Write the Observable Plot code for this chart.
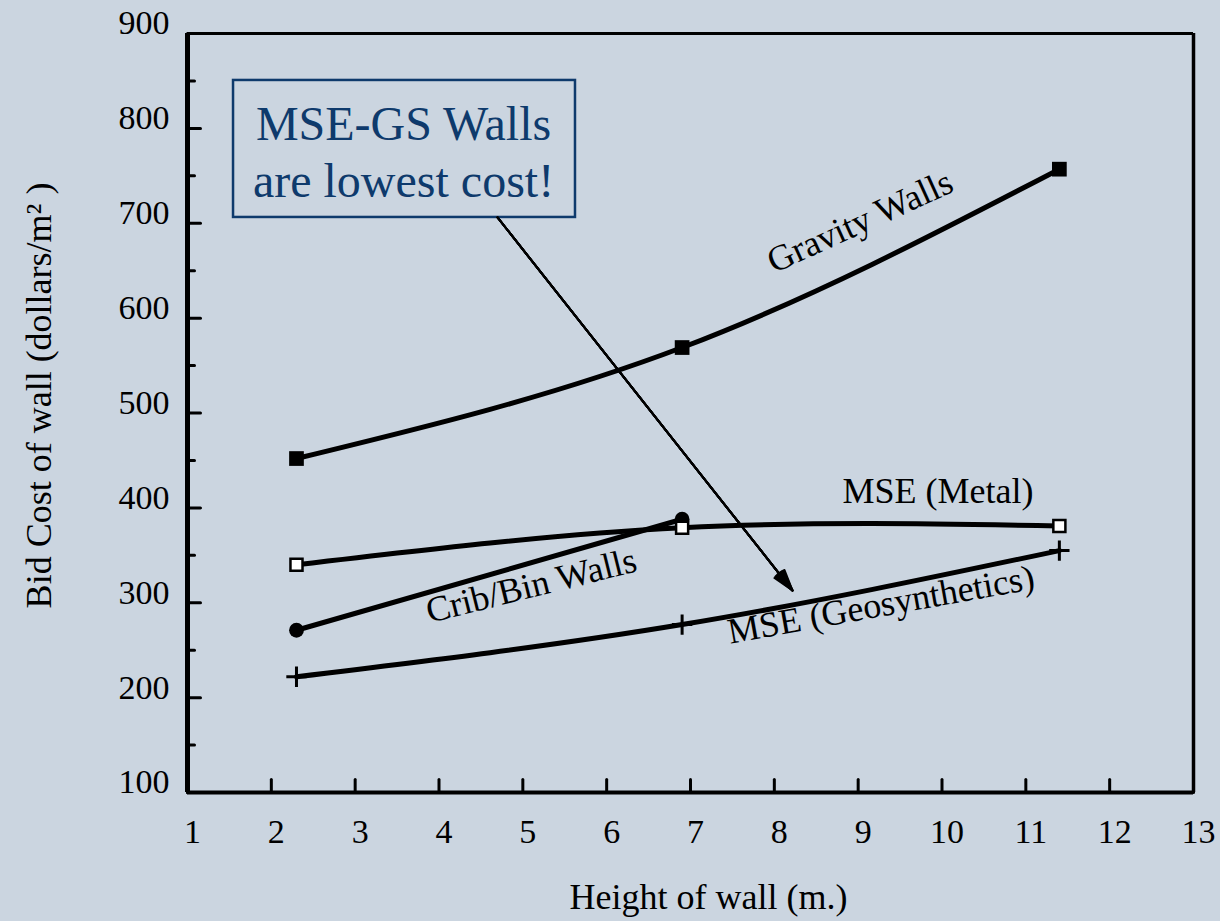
<!DOCTYPE html>
<html>
<head>
<meta charset="utf-8">
<script src="https://cdn.jsdelivr.net/npm/d3@7"></script>
<script src="https://cdn.jsdelivr.net/npm/@observablehq/plot@0.6"></script>
<style>
html, body { margin: 0; padding: 0; background: #cbd5e0; }
</style>
</head>
<body>
<div id="chart"></div>
<script>
// ---- data ----
const heights = [2.3, 6.9, 11.4];
const gravityWalls = [452, 569, 757];
const mseMetal = [340, 379, 381];
const mseGeosynthetics = [222, 277, 355];
const cribHeights = [2.3, 6.9];
const cribBinWalls = [271, 388];

const xTicks = [1, 2, 3, 4, 5, 6, 7, 8, 9, 10, 11, 12, 13];
const yTicks = [100, 200, 300, 400, 500, 600, 700, 800, 900];
const yMinorTicks = [150, 250, 350, 450, 550, 650, 750, 850];
const xDomain = [1, 13];
const yDomain = [100, 900];

const xLabel = "Height of wall (m.)";
const yLabel = "Bid Cost of wall (dollars/m\u00B2 )";
const calloutText = "MSE-GS Walls\nare lowest cost!";

const rows = (xs, ys) => xs.map((x, i) => ({x, y: ys[i]}));
const gravityRows = rows(heights, gravityWalls);
const metalRows = rows(heights, mseMetal);
const geoRows = rows(heights, mseGeosynthetics);
const cribRows = rows(cribHeights, cribBinWalls);

const tickShape = {draw(ctx, l) { ctx.moveTo(0, 0); ctx.lineTo(0, -l); }};
const serif = "'Liberation Serif', 'Times New Roman', serif";
const blue = "#0e3a6c";

const headMarks = [4, 10, 16, 22, 28, 34].map(a =>
  Plot.arrow([0], {x1: 4.698, y1: 706.1, x2: 8.217, y2: 312.9, stroke: "black",
    strokeWidth: 2, headAngle: a, headLength: 16.5})
);

const chart = Plot.plot({
  width: 1220,
  height: 921,
  marginLeft: 187,
  marginRight: 27,
  marginTop: 33,
  marginBottom: 129,
  x: {domain: xDomain},
  y: {domain: yDomain},
  style: {background: "#cbd5e0", fontFamily: serif, fontSize: "34px", color: "black", overflow: "visible"},
  marks: [
    Plot.axisX(xTicks, {tickSize: 0, tickPadding: 26, fontSize: 34, dx: 5, label: null}),
    Plot.axisY(yTicks, {tickSize: 0, tickPadding: 18, fontSize: 34, dy: -10, label: null}),
    // frame
    Plot.ruleY([yDomain[1]], {strokeWidth: 3}),
    Plot.ruleX([xDomain[1]], {strokeWidth: 3.5}),
    Plot.ruleX([xDomain[0]], {strokeWidth: 5}),
    Plot.ruleY([yDomain[0]], {strokeWidth: 4}),
    // inward ticks
    Plot.vectorX(xTicks, {x: d => d, frameAnchor: "bottom", length: 13, anchor: "start", shape: tickShape, strokeWidth: 3}),
    Plot.vectorY(yTicks, {y: d => d, frameAnchor: "left", rotate: 90, length: 13, anchor: "start", shape: tickShape, strokeWidth: 3}),
    Plot.vectorY(yMinorTicks, {y: d => d, frameAnchor: "left", rotate: 90, length: 7, anchor: "start", shape: tickShape, strokeWidth: 3}),
    // series lines
    Plot.line(gravityRows, {x: "x", y: "y", curve: "natural", strokeWidth: 5}),
    Plot.line(metalRows, {x: "x", y: "y", curve: "natural", strokeWidth: 5}),
    Plot.line(geoRows, {x: "x", y: "y", curve: "natural", strokeWidth: 5}),
    Plot.line(cribRows, {x: "x", y: "y", strokeWidth: 5}),
    // markers
    Plot.dot(cribRows, {x: "x", y: "y", symbol: "circle", r: 7.4, fill: "black"}),
    Plot.dot(gravityRows, {x: "x", y: "y", symbol: "square", r: 8.3, fill: "black"}),
    Plot.dot(metalRows, {x: "x", y: "y", symbol: "square", r: 6.8, fill: "white", stroke: "black", strokeWidth: 2.5}),
    Plot.dot(geoRows, {x: "x", y: "y", symbol: "plus", r: 6.6, stroke: "black", strokeWidth: 3}),
    // series labels
    Plot.text(["Gravity Walls"], {x: 9.022, y: 701.8, text: d => d, rotate: -24.5, fontSize: 36, fill: "black"}),
    Plot.text(["MSE (Metal)"], {x: 9.953, y: 417.8, text: d => d, fontSize: 36, fill: "black"}),
    Plot.text(["Crib/Bin Walls"], {x: 5.100, y: 317.9, text: d => d, rotate: -14, fontSize: 36, fill: "black"}),
    Plot.text(["MSE (Geosynthetics)"], {x: 9.273, y: 297.9, text: d => d, rotate: -10.2, fontSize: 36, fill: "black"}),
    // callout
    Plot.rect([0], {x1: 1.549, x2: 5.628, y1: 706.1, y2: 850.5, fill: "none", stroke: blue, strokeWidth: 2.5}),
    Plot.text([calloutText], {x: 3.577, y: 776.7, text: d => d, fontSize: 48, lineHeight: 1.1875, fill: blue}),
    ...headMarks,
    // axis titles
    Plot.text([xLabel], {frameAnchor: "bottom", text: d => d, textAnchor: "middle", lineAnchor: "middle", dx: 18, dy: 105, fontSize: 36, fill: "black"}),
    Plot.text([yLabel], {frameAnchor: "left", text: d => d, textAnchor: "middle", lineAnchor: "middle", rotate: -90, dx: -148.5, dy: -17.5, fontSize: 36, fill: "black"})
  ]
});

document.getElementById("chart").appendChild(chart);
</script>
</body>
</html>
